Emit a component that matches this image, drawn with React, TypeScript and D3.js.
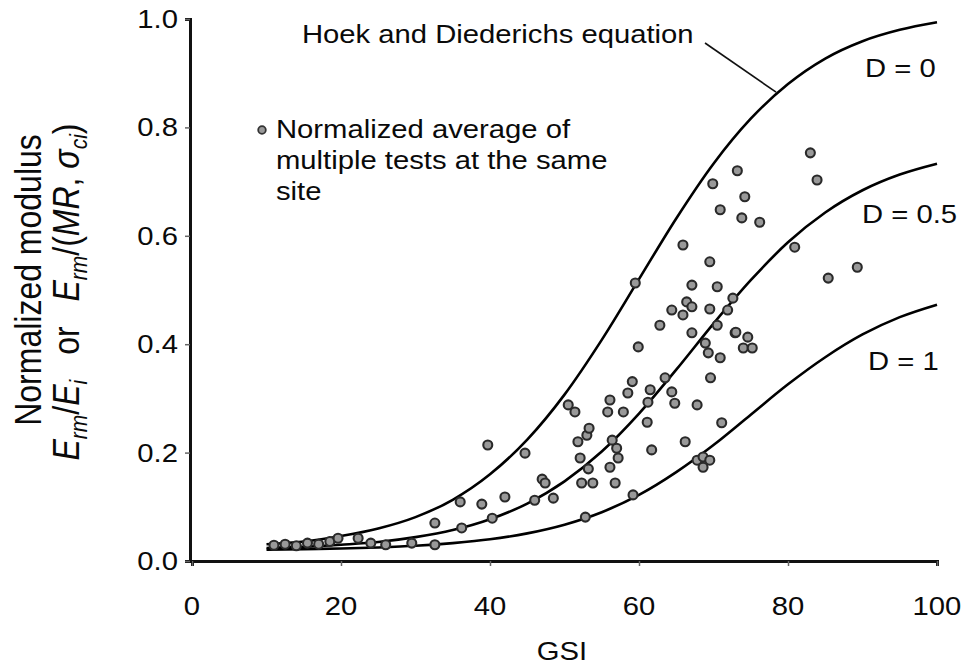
import { useEffect, useRef } from 'react'
import * as d3 from 'd3'

// Hoek & Diederichs curves, every 5 GSI units
const curveGsi = [10, 15, 20, 25, 30, 35, 40, 45, 50, 55, 60, 65, 70, 75, 80, 85, 90, 95, 100]
const curveD0 = [0.031, 0.036, 0.046, 0.06, 0.081, 0.113, 0.16, 0.224, 0.307, 0.408, 0.52, 0.632, 0.733, 0.816, 0.88, 0.927, 0.959, 0.98, 0.994]
const curveD05 = [0.024, 0.026, 0.03, 0.035, 0.044, 0.057, 0.077, 0.106, 0.147, 0.202, 0.272, 0.353, 0.438, 0.518, 0.588, 0.643, 0.684, 0.713, 0.733]
const curveD1 = [0.021, 0.022, 0.023, 0.025, 0.028, 0.033, 0.04, 0.051, 0.067, 0.09, 0.122, 0.164, 0.214, 0.27, 0.326, 0.376, 0.418, 0.45, 0.473]

// Site averages (GSI, normalized modulus)
const siteGsi = [
  11, 12.5, 14, 15.5, 17, 18.5, 19.6, 22.3, 24, 26, 29.5, 32.6, 32.6, 36.2, 36, 38.9, 40.3, 42, 39.7, 44.7,
  46, 47, 47.4, 48.5, 50.5, 51.4, 51.8, 52.1, 52.3, 52.8, 53, 53.3, 53.2, 53.8, 55.8, 56.1, 56.1, 56.4, 56.8, 57,
  57.2, 57.9, 58.5, 59.1, 59.2, 59.5, 59.9, 61.1, 61.2, 61.5, 61.7, 62.8, 63.5, 64.4, 64.4, 64.8, 65.9, 65.9, 66.2, 66.4,
  67.1, 67.1, 67.1, 67.8, 67.8, 68.6, 68.6, 68.9, 69.3, 69.5, 69.5, 69.6, 69.5, 69.9, 70.5, 70.5, 70.9, 70.9, 71.1, 71.9,
  72.6, 72.9, 73.2, 73, 73.8, 74, 75.2, 74.6, 74.2, 76.2, 80.9, 83, 83.9, 85.4, 89.3
]
const siteModulus = [
  0.029, 0.031, 0.028, 0.033, 0.031, 0.036, 0.042, 0.042, 0.033, 0.03, 0.033, 0.03, 0.07, 0.061, 0.109, 0.105, 0.079, 0.118, 0.214, 0.199,
  0.112, 0.151, 0.144, 0.116, 0.288, 0.275, 0.22, 0.19, 0.144, 0.081, 0.232, 0.245, 0.17, 0.144, 0.275, 0.297, 0.173, 0.223, 0.144, 0.208,
  0.19, 0.275, 0.31, 0.331, 0.122, 0.513, 0.395, 0.256, 0.293, 0.316, 0.205, 0.435, 0.338, 0.312, 0.463, 0.291, 0.583, 0.454, 0.22, 0.478,
  0.509, 0.469, 0.421, 0.288, 0.186, 0.192, 0.173, 0.402, 0.384, 0.552, 0.465, 0.338, 0.186, 0.696, 0.506, 0.435, 0.375, 0.648, 0.255, 0.463,
  0.485, 0.421, 0.72, 0.422, 0.633, 0.393, 0.393, 0.413, 0.672, 0.625, 0.579, 0.753, 0.703, 0.522, 0.542
]

const xTicks = [0, 20, 40, 60, 80, 100]
const yTicks = [0, 0.2, 0.4, 0.6, 0.8, 1.0]
const curveLabels = ['D = 0', 'D = 0.5', 'D = 1']
const legendLines = ['Normalized average of', 'multiple tests at the same', 'site']

const W = 964
const H = 666
const font = '"Liberation Sans", Arial, Helvetica, sans-serif'
const stretch = 1.17 // the source text is a bit wide

const App = () => {
  const svgRef = useRef<SVGSVGElement | null>(null)

  useEffect(() => {
    if (!svgRef.current) return
    const svg = d3.select(svgRef.current)
    svg.selectAll('*').remove()

    const x = d3.scaleLinear().domain([0, 100]).range([192, 937])
    const y = d3.scaleLinear().domain([0, 1]).range([561, 19])

    const label = (px: number, py: number, str: string, size: number, anchor = 'start') =>
      svg.append('text')
        .attr('transform', `translate(${px},${py}) scale(${stretch},1)`)
        .attr('font-family', font)
        .attr('font-size', size)
        .attr('fill', '#0a0a0a')
        .attr('text-anchor', anchor)
        .text(str)

    // axes
    const axisX = svg.append('g')
      .attr('transform', `translate(0,${y(0)})`)
      .call(d3.axisBottom(x).tickValues(xTicks).tickSize(5).tickFormat(() => ''))
    const axisY = svg.append('g')
      .attr('transform', `translate(${x(0) - 2},0)`)
      .call(d3.axisLeft(y).tickValues(yTicks).tickSize(5).tickFormat(() => ''))
    for (const a of [axisX, axisY]) {
      a.select('.domain').attr('stroke', '#111').attr('stroke-width', 3)
      a.selectAll('.tick line').attr('stroke', '#666').attr('stroke-width', 1.5)
    }

    xTicks.forEach(t => label(x(t), 615, String(t), 25, 'middle'))
    yTicks.forEach(t => label(178, y(t) + 9, t.toFixed(1), 25, 'end'))
    label(562, 660, 'GSI', 25, 'middle')

    // y title, two lines
    svg.append('text')
      .attr('transform', `translate(41,${y(0.5) - 10}) scale(${stretch},1) rotate(-90)`)
      .attr('font-family', font)
      .attr('font-size', 32)
      .attr('fill', '#0a0a0a')
      .attr('text-anchor', 'middle')
      .text('Normalized modulus')

    const t2 = svg.append('text')
      .attr('transform', `translate(79,${y(0.5) + 2}) scale(${stretch},1) rotate(-90)`)
      .attr('font-family', font)
      .attr('font-size', 32)
      .attr('fill', '#0a0a0a')
      .attr('text-anchor', 'middle')
    const part = (s: string, opts: { italic?: boolean, sub?: boolean, dy?: number } = {}) => {
      const ts = t2.append('tspan').text(s)
      if (opts.italic) ts.attr('font-style', 'italic')
      if (opts.sub) ts.attr('font-size', 21)
      if (opts.dy) ts.attr('dy', opts.dy)
    }
    part('E', { italic: true })
    part('rm', { italic: true, sub: true, dy: 7 })
    part('/', { dy: -7 })
    part('E', { italic: true })
    part('i', { italic: true, sub: true, dy: 7 })
    part('\u2002 or \u2002', { dy: -7 })
    part('E', { italic: true })
    part('rm', { italic: true, sub: true, dy: 7 })
    part('/(', { dy: -7 })
    part('MR', { italic: true })
    part(', ')
    part('\u03c3', { italic: true })
    part('ci', { italic: true, sub: true, dy: 7 })
    part(')', { dy: -7 })

    // curves
    const line = d3.line<number>()
      .x((_, i) => x(curveGsi[i]))
      .y(d => y(d))
      .curve(d3.curveMonotoneX)
    for (const c of [curveD0, curveD05, curveD1]) {
      svg.append('path')
        .attr('d', line(c))
        .attr('fill', 'none')
        .attr('stroke', '#000')
        .attr('stroke-width', 2.6)
    }

    // points
    svg.append('g')
      .selectAll('circle')
      .data(siteGsi)
      .enter()
      .append('circle')
      .attr('cx', d => x(d))
      .attr('cy', (_, i) => y(siteModulus[i]))
      .attr('r', 4.5)
      .attr('fill', '#999')
      .attr('stroke', '#2a2a2a')
      .attr('stroke-width', 2.1)

    // curve annotations
    label(302, 43, 'Hoek and Diederichs equation', 25)
    svg.append('line')
      .attr('x1', 705).attr('y1', 43)
      .attr('x2', x(78.4)).attr('y2', y(0.865))
      .attr('stroke', '#111').attr('stroke-width', 1.6)
    label(865, 77, curveLabels[0], 25)
    label(862, 223, curveLabels[1], 25)
    label(868, 370, curveLabels[2], 25)

    // legend
    svg.append('circle')
      .attr('cx', 262).attr('cy', 130).attr('r', 3.8)
      .attr('fill', '#999').attr('stroke', '#333').attr('stroke-width', 1.8)
    legendLines.forEach((s, i) => label(276, 138 + i * 31, s, 25))
  }, [])

  return (
    <svg
      ref={svgRef}
      width={W}
      height={H}
      style={{ position: 'absolute', left: 0, top: 0, background: '#fff' }}
    />
  )
}

export default App
